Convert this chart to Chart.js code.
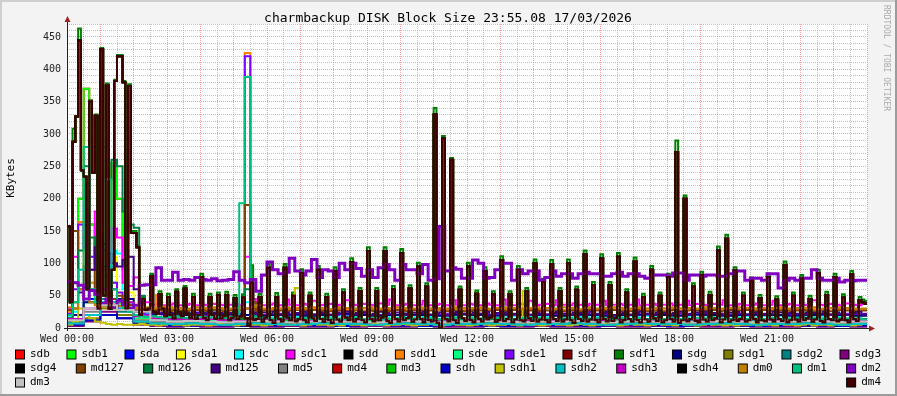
<!DOCTYPE html>
<html lang="en">
<head>
  <title>charmbackup DISK Block Size</title>
  <meta charset="utf-8">
  <script src="https://cdn.jsdelivr.net/npm/chart.js@4.4.1/dist/chart.umd.min.js"></script>
  <style>
    body { margin: 0; background: #f3f3f3; }
    #wrap { width: 897px; height: 396px; }
  </style>
</head>
<body>
<div id="wrap"><canvas id="chart" width="897" height="396"></canvas></div>

<script>
  // time axis is hours since Wed 00:00
  const xTicks = ["Wed 00:00", "Wed 03:00", "Wed 06:00", "Wed 09:00", "Wed 12:00", "Wed 15:00", "Wed 18:00", "Wed 21:00"]

  // dm4 family, 5 minute samples, one row per hour (sdd, sdf, sdg4, md4, md3, sdh4 follow the same device)
  const dm4Vals = [
    157, 40, 288, 327, 445, 244, 234, 60, 350, 240, 328, 30,
    431, 50, 375, 30, 90, 382, 420, 420, 380, 30, 374, 147,
    147, 125, 20, 45, 28, 30, 80, 25, 22, 52, 30, 18,
    48, 20, 15, 56, 24, 18, 61, 22, 16, 48, 14, 20,
    79, 16, 12, 48, 20, 14, 51, 15, 18, 51, 12, 16,
    46, 14, 18, 47, 15, 3, 70, 12, 14, 48, 10, 16,
    93, 12, 8, 48, 14, 10, 93, 16, 12, 50, 10, 14,
    85, 12, 9, 50, 15, 11, 90, 14, 10, 48, 12, 8,
    88, 13, 10, 55, 16, 12, 102, 10, 14, 57, 12, 9,
    119, 14, 10, 57, 12, 16, 119, 11, 8, 60, 14, 10,
    116, 12, 15, 61, 10, 13, 95, 14, 9, 64, 12, 10,
    330, 8, 0, 293, 14, 10, 260, 12, 8, 59, 15, 11,
    95, 12, 9, 53, 14, 10, 88, 13, 16, 52, 10, 12,
    105, 11, 14, 52, 9, 13, 90, 12, 10, 57, 15, 11,
    100, 10, 13, 71, 12, 9, 99, 14, 11, 57, 10, 13,
    100, 12, 8, 59, 14, 11, 114, 10, 13, 66, 12, 9,
    108, 14, 10, 66, 11, 15, 110, 9, 12, 55, 14, 10,
    103, 12, 9, 48, 13, 10, 90, 15, 11, 50, 9, 12,
    79, 14, 10, 272, 8, 12, 200, 10, 14, 64, 11, 9,
    82, 13, 10, 51, 12, 15, 120, 9, 13, 138, 10, 12,
    89, 11, 14, 50, 10, 12, 73, 14, 9, 46, 12, 10,
    79, 13, 10, 44, 14, 11, 97, 9, 12, 50, 13, 10,
    77, 12, 15, 45, 10, 13, 85, 11, 9, 51, 14, 12,
    79, 10, 13, 47, 12, 9, 83, 14, 11, 43, 40, 38
  ]
  const sdf1Vals = [
    157, 40, 308, 327, 463, 244, 234, 60, 352, 240, 330, 30,
    433, 50, 378, 30, 90, 384, 422, 422, 382, 30, 377, 150,
    150, 127, 20, 48, 28, 30, 84, 25, 22, 57, 30, 18,
    53, 20, 15, 60, 24, 18, 65, 22, 16, 53, 14, 20,
    84, 16, 12, 53, 20, 14, 55, 15, 18, 56, 12, 16,
    51, 14, 18, 52, 15, 3, 97, 12, 14, 53, 10, 16,
    99, 12, 8, 54, 14, 10, 99, 16, 12, 55, 10, 14,
    91, 12, 9, 55, 15, 11, 96, 14, 10, 53, 12, 8,
    94, 13, 10, 60, 16, 12, 108, 10, 14, 62, 12, 9,
    125, 14, 10, 62, 12, 16, 125, 11, 8, 65, 14, 10,
    122, 12, 15, 66, 10, 13, 101, 14, 9, 69, 12, 10,
    340, 8, 0, 297, 14, 10, 263, 12, 8, 64, 15, 11,
    101, 12, 9, 58, 14, 10, 94, 13, 16, 57, 10, 12,
    111, 11, 14, 57, 9, 13, 96, 12, 10, 62, 15, 11,
    106, 10, 13, 76, 12, 9, 105, 14, 11, 62, 10, 13,
    106, 12, 8, 64, 14, 11, 120, 10, 13, 71, 12, 9,
    114, 14, 10, 71, 11, 15, 116, 9, 12, 60, 14, 10,
    109, 12, 9, 53, 13, 10, 96, 15, 11, 55, 9, 12,
    84, 14, 10, 290, 8, 12, 205, 10, 14, 69, 11, 9,
    87, 13, 10, 56, 12, 15, 126, 9, 13, 144, 10, 12,
    94, 11, 14, 55, 10, 12, 78, 14, 9, 51, 12, 10,
    84, 13, 10, 49, 14, 11, 103, 9, 12, 55, 13, 10,
    82, 12, 15, 50, 10, 13, 90, 11, 9, 56, 14, 12,
    84, 10, 13, 52, 12, 9, 88, 14, 11, 48, 44, 42
  ]

  // 10 minute samples, two hours per row
  const dm2Vals = [
    72, 70, 66, 45, 58, 52, 38, 45, 32, 42, 36, 30,
    35, 66, 67, 67, 93, 74, 74, 86, 74, 75, 74, 78,
    75, 74, 76, 73, 74, 75, 87, 74, 70, 75, 57, 82,
    102, 90, 84, 86, 108, 88, 82, 88, 106, 78, 90, 88,
    78, 100, 90, 100, 92, 80, 90, 78, 93, 98, 90, 74,
    98, 90, 90, 84, 98, 74, 76, 157, 88, 93, 91, 77,
    77, 105, 100, 77, 78, 90, 100, 100, 74, 90, 84, 88,
    88, 74, 78, 88, 80, 84, 84, 77, 84, 86, 84, 84,
    80, 80, 84, 86, 80, 84, 84, 80, 77, 82, 82, 82,
    80, 85, 85, 74, 82, 82, 80, 82, 82, 80, 80, 84,
    88, 88, 74, 77, 77, 74, 84, 84, 62, 74, 77, 74,
    77, 77, 90, 77, 74, 74, 77, 71, 74, 73, 74, 74
  ]
  const dm0Vals = [
    32, 30, 60, 45, 40, 35, 33, 38, 36, 34, 32, 30,
    31, 33, 32, 30, 31, 33, 32, 30, 31, 29, 30, 32,
    31, 30, 32, 31, 29, 30, 31, 32, 30, 33, 35, 30,
    29, 31, 30, 32, 30, 29, 31, 30, 32, 31, 30, 29,
    30, 32, 31, 29, 30, 31, 32, 30, 29, 31, 30, 32,
    31, 29, 30, 32, 31, 30, 28, 31, 30, 32, 29, 31,
    30, 31, 32, 30, 29, 31, 30, 32, 31, 29, 30, 31,
    32, 30, 31, 29, 30, 32, 31, 30, 29, 31, 32, 30,
    31, 30, 32, 31, 29, 30, 31, 32, 30, 29, 31, 30,
    32, 31, 30, 29, 31, 30, 32, 30, 31, 29, 30, 31,
    30, 32, 31, 30, 29, 31, 30, 31, 32, 30, 29, 31,
    31, 30, 32, 29, 30, 31, 30, 32, 31, 30, 29, 30
  ]
  const md127Vals = [
    28, 150, 60, 95, 60, 140, 110, 60, 45, 50, 40, 35,
    30, 28, 27, 26, 28, 27, 26, 28, 27, 26, 27, 28,
    27, 26, 28, 27, 26, 27, 28, 27, 190, 40, 26, 27,
    26, 28, 27, 26, 27, 28, 26, 27, 28, 26, 27, 26,
    28, 27, 26, 27, 28, 26, 27, 26, 28, 27, 26, 28,
    27, 26, 28, 27, 26, 27, 28, 27, 26, 28, 27, 26,
    26, 28, 27, 26, 27, 28, 27, 26, 28, 27, 26, 27,
    28, 26, 27, 28, 27, 26, 27, 28, 26, 27, 28, 27,
    26, 27, 28, 26, 27, 26, 28, 27, 26, 28, 27, 26,
    27, 28, 26, 27, 28, 27, 26, 27, 28, 26, 27, 28,
    26, 27, 28, 27, 26, 28, 27, 26, 27, 28, 26, 27,
    28, 27, 26, 28, 27, 26, 27, 28, 27, 26, 28, 27
  ]
  const sdd1Vals = [
    25, 30, 164, 93, 70, 60, 55, 45, 40, 38, 35, 30,
    28, 30, 30, 28, 51, 30, 29, 28, 30, 29, 28, 29,
    28, 29, 30, 28, 29, 28, 30, 29, 425, 30, 28, 29,
    28, 29, 30, 28, 29, 31, 28, 29, 30, 28, 29, 28,
    29, 30, 28, 29, 28, 30, 29, 28, 30, 29, 28, 29,
    28, 30, 29, 28, 29, 30, 28, 29, 28, 30, 29, 28,
    29, 28, 30, 29, 28, 29, 30, 28, 29, 28, 30, 29,
    28, 29, 30, 28, 29, 28, 30, 29, 28, 29, 30, 28,
    29, 28, 29, 30, 28, 29, 28, 30, 29, 28, 29, 30,
    28, 29, 30, 28, 29, 28, 29, 30, 28, 29, 28, 30,
    29, 28, 29, 30, 28, 29, 30, 28, 29, 28, 30, 29,
    28, 30, 29, 28, 29, 30, 28, 29, 30, 28, 29, 28
  ]
  const sde1Vals = [
    22, 60, 160, 125, 110, 120, 90, 80, 70, 55, 45, 35,
    25, 22, 21, 20, 22, 21, 20, 22, 21, 20, 21, 22,
    21, 20, 22, 21, 20, 21, 22, 20, 420, 25, 21, 20,
    21, 20, 22, 21, 20, 21, 22, 20, 21, 22, 20, 21,
    20, 22, 21, 20, 21, 22, 20, 21, 20, 22, 21, 20,
    22, 21, 20, 21, 22, 20, 21, 20, 22, 21, 20, 22,
    21, 20, 22, 21, 20, 21, 22, 20, 21, 22, 20, 21,
    20, 22, 21, 20, 21, 22, 20, 21, 20, 22, 21, 20,
    22, 21, 20, 21, 22, 20, 21, 20, 22, 21, 20, 22,
    21, 20, 22, 21, 20, 21, 22, 20, 21, 22, 20, 21,
    20, 22, 21, 20, 21, 22, 20, 21, 20, 22, 21, 20,
    22, 21, 20, 21, 22, 20, 21, 20, 22, 21, 20, 22
  ]
  const sdb1Vals = [
    15, 40, 200, 370, 160, 100, 80, 60, 255, 200, 90, 40,
    20, 12, 8, 6, 5, 4, 5, 4, 4, 5, 4, 4,
    5, 4, 4, 5, 4, 5, 4, 4, 6, 4, 5, 4,
    4, 5, 4, 4, 5, 4, 5, 4, 4, 5, 4, 4,
    5, 4, 5, 4, 4, 5, 4, 4, 5, 4, 5, 4,
    4, 5, 4, 5, 4, 4, 5, 4, 4, 5, 4, 5,
    4, 4, 5, 4, 5, 4, 4, 5, 4, 4, 5, 4,
    5, 4, 4, 5, 4, 5, 4, 4, 5, 4, 4, 5,
    4, 5, 4, 4, 5, 4, 5, 4, 4, 5, 4, 4,
    5, 4, 5, 4, 4, 5, 4, 4, 5, 4, 5, 4,
    4, 4, 5, 4, 5, 4, 4, 5, 4, 4, 5, 4,
    5, 4, 4, 5, 4, 4, 5, 4, 5, 4, 4, 5
  ]
  const md126Vals = [
    15, 30, 120, 250, 140, 120, 280, 230, 260, 250, 180, 160,
    155, 50, 25, 18, 15, 14, 14, 13, 14, 15, 14, 13,
    14, 13, 14, 13, 14, 14, 13, 14, 60, 14, 13, 14,
    13, 14, 14, 13, 14, 13, 14, 14, 13, 14, 13, 14,
    14, 13, 14, 14, 13, 14, 13, 14, 14, 13, 14, 13,
    13, 14, 13, 14, 14, 13, 14, 13, 14, 14, 13, 14,
    14, 13, 14, 13, 14, 14, 13, 14, 13, 14, 14, 13,
    13, 14, 14, 13, 14, 13, 14, 14, 13, 14, 13, 14,
    14, 13, 14, 14, 13, 14, 13, 14, 14, 13, 14, 13,
    13, 14, 13, 14, 14, 13, 14, 13, 14, 14, 13, 14,
    14, 13, 14, 13, 14, 14, 13, 14, 13, 14, 14, 13,
    13, 14, 14, 13, 14, 13, 14, 14, 13, 14, 13, 14
  ]
  const md125Vals = [
    20, 70, 55, 65, 90, 125, 130, 115, 100, 95, 105, 110,
    60, 40, 25, 23, 22, 24, 23, 22, 24, 23, 22, 24,
    23, 22, 24, 23, 22, 23, 24, 22, 30, 23, 22, 24,
    22, 25, 21, 24, 20, 23, 25, 22, 21, 24, 23, 20,
    24, 22, 25, 21, 23, 24, 20, 22, 25, 23, 21, 24,
    22, 20, 24, 23, 25, 21, 22, 24, 20, 23, 25, 22,
    21, 24, 22, 25, 20, 23, 24, 21, 22, 25, 23, 20,
    24, 22, 21, 23, 25, 22, 20, 24, 23, 21, 25, 22,
    23, 25, 20, 22, 24, 21, 23, 25, 22, 20, 24, 23,
    21, 23, 25, 20, 22, 24, 25, 21, 23, 22, 20, 24,
    25, 22, 21, 24, 23, 20, 22, 25, 24, 21, 23, 22,
    20, 24, 23, 22, 25, 21, 24, 22, 20, 23, 25, 21
  ]
  const sdcVals = [
    18, 25, 60, 90, 70, 100, 130, 80, 120, 115, 60, 40,
    30, 25, 23, 24, 22, 23, 24, 22, 23, 24, 23, 22,
    23, 22, 24, 23, 22, 23, 24, 22, 40, 22, 21, 20,
    19, 18, 20, 19, 17, 18, 20, 19, 18, 21, 19, 18,
    20, 19, 18, 17, 19, 20, 18, 19, 21, 18, 19, 20,
    18, 20, 19, 18, 20, 17, 19, 18, 20, 19, 18, 21,
    19, 18, 20, 19, 18, 20, 19, 21, 18, 19, 20, 18,
    20, 19, 18, 21, 19, 18, 20, 19, 17, 18, 20, 19,
    18, 20, 19, 18, 21, 19, 18, 20, 19, 18, 19, 20,
    19, 18, 20, 19, 18, 20, 21, 19, 18, 20, 19, 18,
    20, 19, 18, 19, 20, 18, 19, 21, 18, 19, 20, 19,
    18, 20, 19, 18, 19, 20, 18, 19, 21, 18, 19, 20
  ]
  const sdc1Vals = [
    30, 110, 60, 45, 90, 180, 120, 100, 154, 140, 70, 65,
    78, 45, 40, 36, 37, 35, 36, 38, 35, 36, 37, 35,
    36, 35, 37, 36, 35, 36, 37, 35, 110, 45, 36, 35,
    36, 38, 35, 44, 36, 35, 37, 36, 42, 35, 36, 37,
    35, 36, 43, 36, 35, 37, 36, 35, 38, 36, 44, 35,
    36, 37, 35, 36, 42, 35, 36, 37, 35, 43, 36, 35,
    37, 36, 35, 38, 36, 35, 44, 36, 35, 37, 36, 42,
    35, 36, 37, 35, 43, 36, 35, 38, 36, 35, 37, 36,
    42, 35, 36, 37, 35, 36, 44, 35, 36, 37, 35, 36,
    38, 35, 36, 42, 35, 37, 36, 35, 37, 36, 43, 35,
    36, 37, 35, 36, 38, 35, 36, 42, 35, 36, 37, 35,
    36, 35, 43, 36, 35, 37, 36, 35, 38, 36, 35, 37
  ]
  const dm1Vals = [
    20, 40, 90, 280, 60, 40, 50, 230, 60, 40, 30, 25,
    20, 18, 17, 18, 17, 16, 17, 18, 17, 16, 17, 18,
    17, 16, 18, 17, 16, 17, 16, 193, 388, 18, 15, 16,
    15, 14, 16, 15, 13, 15, 16, 14, 15, 13, 16, 15,
    14, 15, 13, 16, 15, 14, 15, 16, 13, 15, 14, 16,
    15, 13, 15, 14, 16, 15, 14, 13, 15, 16, 14, 15,
    16, 14, 15, 13, 15, 16, 14, 15, 13, 14, 16, 15,
    14, 16, 15, 14, 13, 15, 16, 14, 15, 13, 15, 16,
    15, 14, 13, 16, 15, 14, 15, 16, 14, 15, 13, 14,
    16, 15, 14, 15, 13, 16, 15, 14, 16, 15, 14, 13,
    15, 16, 14, 13, 15, 14, 16, 15, 14, 13, 15, 16,
    14, 15, 16, 14, 15, 13, 14, 16, 15, 14, 15, 13
  ]
  const sdh1Vals = [
    5, 10, 30, 20, 15, 10, 8, 6, 5, 6, 5, 5,
    5, 6, 5, 5, 4, 5, 6, 5, 5, 4, 5, 5,
    5, 4, 5, 6, 5, 5, 4, 5, 6, 5, 5, 4,
    5, 6, 5, 5, 5, 62, 4, 5, 6, 5, 5, 4,
    5, 4, 6, 5, 5, 4, 5, 6, 5, 4, 5, 5,
    6, 5, 4, 5, 5, 6, 5, 4, 5, 6, 5, 5,
    4, 5, 6, 5, 4, 5, 5, 6, 5, 4, 57, 5,
    5, 4, 5, 6, 5, 5, 4, 5, 6, 5, 4, 5,
    6, 5, 5, 4, 5, 6, 5, 5, 4, 5, 6, 5,
    5, 4, 6, 5, 5, 4, 5, 6, 5, 5, 4, 5,
    4, 5, 5, 6, 4, 5, 5, 4, 6, 5, 5, 4,
    5, 6, 4, 5, 5, 4, 6, 5, 5, 4, 5, 6
  ]

  // 30 minute samples, four hours per row
  const sdaVals = [5, 45, 95, 40, 10, 6, 5, 4, 5, 6, 4, 5, 5, 4, 6, 5, 4, 5, 4, 5, 6, 4, 5, 5, 4, 6, 5, 4, 5, 4, 5, 4, 6, 5, 4, 5, 4, 5, 5, 6, 4, 5, 5, 4, 5, 6, 4, 5]
  const sda1Vals = [4, 20, 110, 55, 12, 5, 3, 4, 3, 3, 4, 3, 3, 3, 4, 3, 3, 4, 3, 4, 3, 3, 4, 3, 4, 3, 3, 4, 3, 3, 3, 4, 3, 3, 4, 3, 3, 3, 4, 3, 3, 4, 3, 4, 3, 3, 3, 4]
  const sdeVals = [12, 40, 70, 35, 15, 12, 11, 12, 11, 10, 12, 11, 10, 11, 12, 10, 11, 10, 11, 10, 12, 11, 10, 11, 10, 12, 11, 10, 11, 10, 11, 10, 11, 12, 10, 11, 10, 11, 10, 12, 11, 10, 11, 10, 11, 10, 12, 11]
  const sdgVals = [20, 40, 60, 45, 25, 22, 21, 20, 22, 21, 20, 19, 20, 21, 19, 20, 22, 20, 19, 20, 21, 20, 19, 21, 20, 19, 21, 20, 20, 19, 21, 20, 19, 20, 21, 20, 19, 21, 20, 19, 20, 21, 20, 19, 20, 21, 20, 19]
  const sdg1Vals = [6, 15, 30, 20, 8, 6, 5, 5, 6, 5, 4, 5, 6, 5, 5, 4, 5, 6, 5, 4, 5, 6, 5, 5, 4, 5, 6, 5, 5, 4, 5, 6, 5, 4, 5, 5, 6, 5, 4, 5, 5, 6, 5, 4, 5, 5, 6, 5]
  const sdg2Vals = [8, 20, 45, 25, 10, 8, 7, 8, 7, 6, 7, 8, 7, 6, 7, 8, 7, 7, 6, 7, 8, 7, 6, 7, 7, 8, 7, 6, 7, 7, 8, 7, 6, 7, 8, 7, 7, 6, 7, 8, 7, 6, 7, 7, 8, 7, 6, 7]
  const sdg3Vals = [3, 10, 25, 15, 5, 3, 2, 3, 2, 2, 3, 2, 2, 3, 2, 2, 3, 2, 3, 2, 2, 3, 2, 2, 2, 3, 2, 2, 3, 2, 2, 2, 3, 2, 2, 3, 2, 3, 2, 2, 3, 2, 2, 2, 3, 2, 3, 2]
  const md5Vals = [10, 25, 40, 30, 12, 10, 9, 10, 9, 8, 9, 10, 9, 8, 9, 10, 9, 9, 8, 9, 10, 9, 8, 9, 9, 10, 9, 8, 9, 9, 10, 9, 8, 9, 10, 9, 9, 8, 9, 10, 9, 8, 9, 9, 10, 9, 8, 9]
  const sdhVals = [5, 12, 20, 15, 6, 5, 4, 4, 5, 4, 3, 4, 4, 5, 4, 4, 3, 4, 5, 4, 4, 3, 4, 5, 4, 4, 3, 4, 5, 4, 4, 3, 4, 5, 4, 4, 3, 4, 5, 4, 4, 3, 4, 5, 4, 4, 3, 4]
  const sdh2Vals = [7, 20, 40, 30, 10, 7, 6, 7, 6, 5, 6, 7, 6, 5, 6, 7, 6, 6, 5, 6, 7, 6, 5, 6, 6, 7, 6, 5, 6, 6, 7, 6, 5, 6, 7, 6, 6, 5, 6, 7, 6, 5, 6, 6, 7, 6, 5, 6]
  const sdh3Vals = [14, 30, 60, 40, 18, 15, 13, 12, 14, 12, 11, 13, 12, 14, 12, 11, 13, 12, 14, 12, 11, 13, 12, 14, 12, 11, 13, 12, 14, 12, 11, 13, 12, 14, 12, 11, 13, 12, 14, 12, 11, 13, 12, 14, 12, 11, 13, 12]
  const dm3Vals = [12, 30, 35, 28, 25, 12, 10, 11, 10, 9, 10, 11, 10, 9, 10, 11, 10, 10, 9, 10, 11, 10, 9, 10, 10, 11, 10, 9, 10, 10, 11, 10, 9, 10, 11, 10, 10, 9, 10, 11, 10, 9, 10, 10, 11, 10, 9, 10]

  // legend order = draw order, [name, colour, values, minutes per sample]
  const series = [
    ["sdb", "#ff0000", sdb1Vals, 10],
    ["sdb1", "#00ff00", sdb1Vals, 10],
    ["sda", "#0000ff", sdaVals, 30],
    ["sda1", "#ffff00", sda1Vals, 30],
    ["sdc", "#00ffff", sdcVals, 10],
    ["sdc1", "#ff00ff", sdc1Vals, 10],
    ["sdd", "#000000", dm4Vals, 5],
    ["sdd1", "#ff8000", sdd1Vals, 10],
    ["sde", "#00ff80", sdeVals, 30],
    ["sde1", "#8000ff", sde1Vals, 10],
    ["sdf", "#800000", dm4Vals, 5],
    ["sdf1", "#008000", sdf1Vals, 5],
    ["sdg", "#000080", sdgVals, 30],
    ["sdg1", "#808000", sdg1Vals, 30],
    ["sdg2", "#008080", sdg2Vals, 30],
    ["sdg3", "#800080", sdg3Vals, 30],
    ["sdg4", "#000000", dm4Vals, 5],
    ["md127", "#804000", md127Vals, 10],
    ["md126", "#008040", md126Vals, 10],
    ["md125", "#400080", md125Vals, 10],
    ["md5", "#808080", md5Vals, 30],
    ["md4", "#c00000", dm4Vals, 5],
    ["md3", "#00c000", dm4Vals, 5],
    ["sdh", "#0000c0", sdhVals, 30],
    ["sdh1", "#c0c000", sdh1Vals, 10],
    ["sdh2", "#00c0c0", sdh2Vals, 30],
    ["sdh3", "#c000c0", sdh3Vals, 30],
    ["sdh4", "#000000", dm4Vals, 5],
    ["dm0", "#c08000", dm0Vals, 10],
    ["dm1", "#00c080", dm1Vals, 10],
    ["dm2", "#8000c0", dm2Vals, 10],
    ["dm3", "#c0c0c0", dm3Vals, 30],
    ["dm4", "#400000", dm4Vals, 5]
  ]
  const legendRows = [16, 15, 2]

  function toPoints(vals, minutes) {
    let pts = vals.map((v, i) => ({x: i * minutes / 60, y: v}))
    pts.push({x: 24, y: vals[vals.length - 1]})
    return pts
  }

  let datasets = series.map((s, k) => ({
    label: s[0],
    data: toPoints(s[2], s[3]),
    borderColor: s[1],
    backgroundColor: s[1],
    borderWidth: s[0] == "dm2" ? 3 : 2,
    stepped: true,
    pointRadius: 0,
    fill: false,
    order: series.length - k
  }))

  const mono = "DejaVu Sans Mono"

  const rrdLook = {
    id: "rrdLook",
    beforeDraw(chart) {
      const c = chart.ctx, a = chart.chartArea
      c.save()
      c.fillStyle = "#f3f3f3"
      c.fillRect(0, 0, 897, 396)
      c.fillStyle = "#cfcfcf"
      c.fillRect(0, 0, 897, 2)
      c.fillRect(0, 0, 2, 396)
      c.fillStyle = "#9c9c9c"
      c.fillRect(0, 394, 897, 2)
      c.fillRect(895, 0, 2, 396)
      c.fillStyle = "#ffffff"
      c.fillRect(a.left, a.top, a.right - a.left, a.bottom - a.top)
      c.restore()
    },
    afterDraw(chart) {
      const c = chart.ctx, a = chart.chartArea
      c.save()
      // axes with arrows
      c.strokeStyle = "#202020"
      c.lineWidth = 1
      c.beginPath()
      c.moveTo(a.left - 3, a.bottom + 0.5)
      c.lineTo(a.right + 3, a.bottom + 0.5)
      c.moveTo(a.left + 0.5, a.bottom + 3)
      c.lineTo(a.left + 0.5, a.top - 3)
      c.stroke()
      c.fillStyle = "#a02020"
      c.beginPath()
      c.moveTo(a.right + 2, a.bottom - 2.5)
      c.lineTo(a.right + 8, a.bottom + 0.5)
      c.lineTo(a.right + 2, a.bottom + 3.5)
      c.fill()
      c.beginPath()
      c.moveTo(a.left - 2.5, a.top - 2)
      c.lineTo(a.left + 0.5, a.top - 8)
      c.lineTo(a.left + 3.5, a.top - 2)
      c.fill()

      // title and axis texts
      c.fillStyle = "#000"
      c.textBaseline = "middle"
      c.textAlign = "center"
      c.font = "13px '" + mono + "'"
      c.fillText("charmbackup DISK Block Size 23:55.08 17/03/2026", 448, 19)
      c.save()
      c.translate(11, 178)
      c.rotate(-Math.PI / 2)
      c.font = "11px '" + mono + "'"
      c.fillText("KBytes", 0, 0)
      c.restore()
      c.save()
      c.translate(886, 5)
      c.rotate(Math.PI / 2)
      c.textAlign = "left"
      c.fillStyle = "#aaaaaa"
      c.font = "8px '" + mono + "'"
      c.fillText("RRDTOOL / TOBI OETIKER", 0, 0)
      c.restore()

      // legend, justified rows like rrdtool
      c.font = "11px '" + mono + "'"
      c.textAlign = "left"
      let start = 0
      legendRows.forEach((n, r) => {
        let items = series.slice(start, start + n)
        let widths = items.map(s => 15 + c.measureText(s[0]).width)
        let total = widths.reduce((p, q) => p + q, 0)
        let gap = n > 1 ? (881 - 15 - total) / (n - 1) : 0
        let x = 15, y = 354.5 + r * 14
        items.forEach((s, k) => {
          c.fillStyle = s[1]
          c.fillRect(x + 0.5, y - 4.5, 9, 9)
          c.strokeStyle = "#000"
          c.strokeRect(x + 0.5, y - 4.5, 9, 9)
          c.fillStyle = "#000"
          c.fillText(s[0], x + 15, y)
          x += widths[k] + gap
        })
        start += n
      })
      c.restore()
    }
  }

  new Chart(document.getElementById("chart"), {
    type: "line",
    data: {datasets: datasets},
    options: {
      responsive: false,
      animation: false,
      events: [],
      layout: {padding: {left: 0, right: 30, top: 24, bottom: 0}},
      plugins: {legend: {display: false}, tooltip: {enabled: false}, title: {display: false}},
      scales: {
        x: {
          type: "linear",
          min: 0,
          max: 24,
          afterFit(scale) { scale.height = 68 },
          border: {display: false, dash: [1, 1]},
          grid: {
            drawTicks: false,
            color: ctx => ctx.tick.value % 1 === 0 ? "rgba(255,80,80,0.55)" : "rgba(170,170,170,0.7)"
          },
          ticks: {
            stepSize: 0.5,
            autoSkip: false,
            maxRotation: 0,
            padding: 5,
            color: "#222",
            font: {family: mono, size: 10},
            callback: v => (v % 3 === 0 && v < 24) ? xTicks[v / 3] : ""
          }
        },
        y: {
          min: 0,
          max: 470,
          afterFit(scale) { scale.width = 67 },
          border: {display: false, dash: [1, 1]},
          grid: {
            drawTicks: false,
            color: ctx => ctx.tick.value % 50 === 0 ? "rgba(255,80,80,0.55)" : "rgba(170,170,170,0.7)"
          },
          ticks: {
            stepSize: 10,
            autoSkip: false,
            padding: 6,
            color: "#222",
            font: {family: mono, size: 10},
            callback: v => v % 50 === 0 ? v : ""
          }
        }
      }
    },
    plugins: [rrdLook]
  })
</script>
</body>
</html>
